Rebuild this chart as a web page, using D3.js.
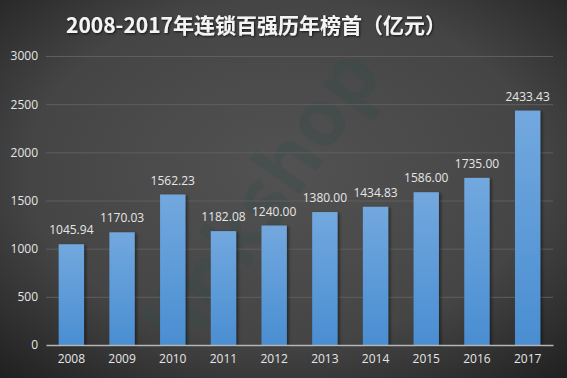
<!DOCTYPE html>
<html>
<head>
<meta charset="utf-8">
<script src="https://cdn.jsdelivr.net/npm/d3@7"></script>
<style>
  html, body { margin: 0; padding: 0; background: #333; }
  svg { display: block; }
</style>
</head>
<body>
<script>
// data
const years = ["2008", "2009", "2010", "2011", "2012", "2013", "2014", "2015", "2016", "2017"];
const values = [1045.94, 1170.03, 1562.23, 1182.08, 1240.00, 1380.00, 1434.83, 1586.00, 1735.00, 2433.43];
const yTicks = [0, 500, 1000, 1500, 2000, 2500, 3000];
const title = "2008-2017年连锁百强历年榜首（亿元）";

const width = 567, height = 378;
const margin = { top: 56, right: 14, bottom: 33, left: 46 };
const font = "'Open Sans', 'Liberation Sans', sans-serif";

const svg = d3.select("body").append("svg")
  .attr("width", width)
  .attr("height", height);

const defs = svg.append("defs");

// background radial gradient
const bg = defs.append("radialGradient")
  .attr("id", "bg")
  .attr("cx", "50%").attr("cy", "45%").attr("r", "75%");
bg.append("stop").attr("offset", "0%").attr("stop-color", "#525252");
bg.append("stop").attr("offset", "60%").attr("stop-color", "#454545");
bg.append("stop").attr("offset", "100%").attr("stop-color", "#1f1f1f");

const barGrad = defs.append("linearGradient")
  .attr("id", "bar")
  .attr("x1", 0).attr("y1", 0).attr("x2", 0).attr("y2", 1);
barGrad.append("stop").attr("offset", "0%").attr("stop-color", "#72a8de");
barGrad.append("stop").attr("offset", "100%").attr("stop-color", "#4a8ed2");

const shadow = defs.append("filter").attr("id", "shadow")
  .attr("x", "-20%").attr("y", "-20%").attr("width", "160%").attr("height", "140%");
shadow.append("feDropShadow")
  .attr("dx", 2).attr("dy", 1).attr("stdDeviation", 1.5)
  .attr("flood-color", "#000").attr("flood-opacity", 0.45);

const textShadow = defs.append("filter").attr("id", "tshadow");
textShadow.append("feDropShadow")
  .attr("dx", 1).attr("dy", 1).attr("stdDeviation", 0.8)
  .attr("flood-color", "#000").attr("flood-opacity", 0.7);

svg.append("rect")
  .attr("width", width).attr("height", height)
  .attr("fill", "url(#bg)");

// title
svg.append("text")
  .attr("x", 256)
  .attr("y", 33)
  .attr("text-anchor", "middle")
  .attr("fill", "#f4f4f4")
  .attr("font-family", "'Noto Sans CJK SC', 'Noto Sans', sans-serif")
  .attr("font-weight", "bold")
  .attr("font-size", 21)
  .attr("filter", "url(#tshadow)")
  .text(title);

// faint watermark
svg.append("text")
  .attr("transform", "translate(285,215) rotate(-55)")
  .attr("text-anchor", "middle")
  .attr("fill", "#2f4a4a")
  .attr("opacity", 0.25)
  .attr("font-family", font)
  .attr("font-weight", "bold")
  .attr("font-size", 80)
  .text("linkshop");

const x = d3.scaleBand()
  .domain(years)
  .range([margin.left, width - margin.right])
  .paddingInner(0.5)
  .paddingOuter(0.25);

const y = d3.scaleLinear()
  .domain([0, 3000])
  .range([height - margin.bottom, margin.top]);

// gridlines
svg.append("g")
  .selectAll("line")
  .data(yTicks.filter(d => d > 0))
  .join("line")
  .attr("x1", margin.left)
  .attr("x2", width - margin.right)
  .attr("y1", d => y(d) + 0.5)
  .attr("y2", d => y(d) + 0.5)
  .attr("stroke", "#5e5e5e")
  .attr("stroke-width", 1);

// y axis
const yAxis = d3.axisLeft(y).tickValues(yTicks).tickFormat(d3.format("d")).tickSize(0).tickPadding(8);
const gy = svg.append("g")
  .attr("transform", `translate(${margin.left},0)`)
  .call(yAxis);
gy.select(".domain").remove();
gy.selectAll("text")
  .attr("fill", "#e6e6e6")
  .attr("font-family", font)
  .attr("font-size", 12);

// bars
svg.append("g")
  .selectAll("rect")
  .data(values)
  .join("rect")
  .attr("x", (d, i) => x(years[i]))
  .attr("y", d => y(d))
  .attr("width", x.bandwidth())
  .attr("height", d => y(0) - y(d))
  .attr("fill", "url(#bar)")
  .attr("filter", "url(#shadow)");

// value labels
svg.append("g")
  .selectAll("text")
  .data(values)
  .join("text")
  .attr("x", (d, i) => x(years[i]) + x.bandwidth() / 2)
  .attr("y", d => y(d) - 10)
  .attr("text-anchor", "middle")
  .attr("fill", "#e6e6e6")
  .attr("font-family", font)
  .attr("font-size", 12)
  .text(d => d.toFixed(2));

// x axis
const xAxis = d3.axisBottom(x).tickSize(0).tickPadding(9);
const gx = svg.append("g")
  .attr("transform", `translate(0,${y(0)})`)
  .call(xAxis);
gx.select(".domain")
  .attr("stroke", "#b5b5b5")
  .attr("stroke-width", 1.5);
gx.selectAll("text")
  .attr("fill", "#e6e6e6")
  .attr("font-family", font)
  .attr("font-size", 12);
</script>
</body>
</html>
